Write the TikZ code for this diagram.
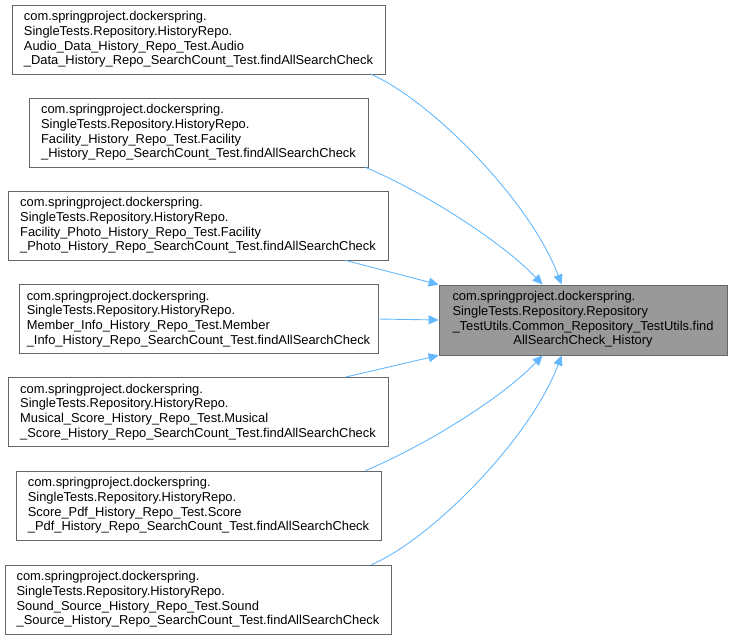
\documentclass[tikz,border=0pt]{standalone}
\usepackage{fontspec}
\setmainfont{Liberation Sans}
\usetikzlibrary{arrows.meta}
\definecolor{edgeblue}{HTML}{63B8FF}
\definecolor{boxline}{HTML}{666666}
\definecolor{tgtfill}{HTML}{999999}
\begin{document}
\begin{tikzpicture}[x=1pt,y=-1pt,
  box/.style={draw=boxline, fill=white, line width=0.8pt, minimum height=69pt, inner sep=0pt, align=left, font=\fontsize{12.9}{14.7}\selectfont},
  tgt/.style={box, fill=tgtfill},
  edge/.style={draw=edgeblue, line width=0.9pt, -{Triangle[length=10pt,width=9pt]}}]
\useasboundingbox (0,0) rectangle (732,640);
\node[box, minimum width=373pt] (n1) at (198.5,39.5) {com.springproject.dockerspring.\\SingleTests.Repository.HistoryRepo.\\Audio\_Data\_History\_Repo\_Test.Audio\\\_Data\_History\_Repo\_SearchCount\_Test.findAllSearchCheck};
\node[box, minimum width=339pt] (n2) at (198.5,132.5) {com.springproject.dockerspring.\\SingleTests.Repository.HistoryRepo.\\Facility\_History\_Repo\_Test.Facility\\\_History\_Repo\_SearchCount\_Test.findAllSearchCheck};
\node[box, minimum width=380pt] (n3) at (198,225.5) {com.springproject.dockerspring.\\SingleTests.Repository.HistoryRepo.\\Facility\_Photo\_History\_Repo\_Test.Facility\\\_Photo\_History\_Repo\_SearchCount\_Test.findAllSearchCheck};
\node[box, minimum width=359pt] (n4) at (198.5,319) {com.springproject.dockerspring.\\SingleTests.Repository.HistoryRepo.\\Member\_Info\_History\_Repo\_Test.Member\\\_Info\_History\_Repo\_SearchCount\_Test.findAllSearchCheck};
\node[box, minimum width=380pt] (n5) at (198,412) {com.springproject.dockerspring.\\SingleTests.Repository.HistoryRepo.\\Musical\_Score\_History\_Repo\_Test.Musical\\\_Score\_History\_Repo\_SearchCount\_Test.findAllSearchCheck};
\node[box, minimum width=365pt] (n6) at (198.5,505.5) {com.springproject.dockerspring.\\SingleTests.Repository.HistoryRepo.\\Score\_Pdf\_History\_Repo\_Test.Score\\\_Pdf\_History\_Repo\_SearchCount\_Test.findAllSearchCheck};
\node[box, minimum width=386pt] (n7) at (198,599.5) {com.springproject.dockerspring.\\SingleTests.Repository.HistoryRepo.\\Sound\_Source\_History\_Repo\_Test.Sound\\\_Source\_History\_Repo\_SearchCount\_Test.findAllSearchCheck};
\node[tgt, minimum width=288pt, minimum height=70pt] (t) at (583,320) {\def\arraystretch{1}\begin{tabular}{@{}l@{}}com.springproject.dockerspring.\\SingleTests.Repository.Repository\\\_TestUtils.Common\_Repository\_TestUtils.find\\\multicolumn{1}{@{}c@{}}{AllSearchCheck\_History}\end{tabular}};
\draw[edge] ([xshift=-14pt]n1.south east) .. controls (430,100) and (530,200) .. ([xshift=123pt]t.north west);
\draw[edge] ([xshift=-3pt]n2.south east) .. controls (420,190) and (500,240) .. ([xshift=104pt]t.north west);
\draw[edge] ([xshift=-43pt]n3.south east) -- (t.north west);
\draw[edge] (n4.east) -- (t.west);
\draw[edge] ([xshift=-43pt]n5.north east) -- (t.south west);
\draw[edge] ([xshift=-16pt]n6.north east) .. controls (420,448) and (500,400) .. ([xshift=104pt]t.south west);
\draw[edge] ([xshift=-20pt]n7.north east) .. controls (430,540) and (530,440) .. ([xshift=123pt]t.south west);
\end{tikzpicture}
\end{document}
